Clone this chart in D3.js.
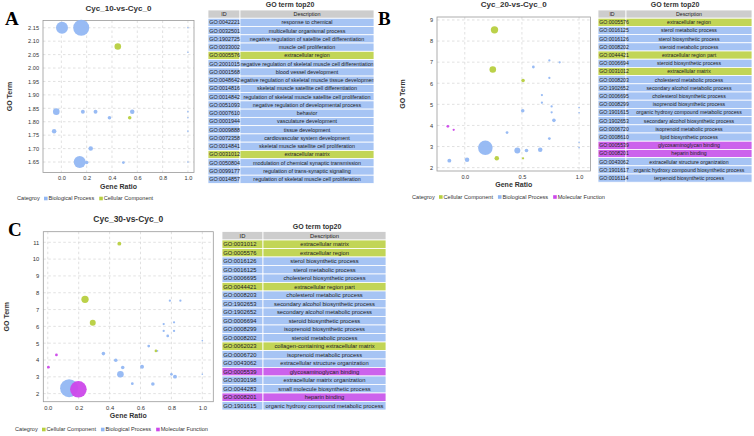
<!DOCTYPE html>
<html><head><meta charset="utf-8">
<script src="https://cdn.jsdelivr.net/npm/d3@7/dist/d3.min.js"></script>
<style>body{margin:0;background:#fff}svg{display:block;font-family:"Liberation Sans",Arial,sans-serif}</style>
</head><body><svg id="c" width="754" height="436"></svg>
<script>
// ---------- DATA ----------
const catNames = {CC: "Cellular Component", BP: "Biological Process", MF: "Molecular Function"};

// Panel A: Cyc_10-vs-Cyc_0
const aRatio = [0.005, 0.157, 0.446, 1.0, 1.0, -0.04, 0.17, 0.27, 0.38, 0.56, 0.54, 1.0, 1.0, -0.057, 1.0, 0.232, 0.145, 0.2, 0.49, 1.0];
const aTerm  = [2.15, 2.15, 2.08, 2.15, 2.059, 1.8375, 1.8375, 1.8375, 1.815, 1.8375, 1.815, 1.8375, 1.815, 1.765, 1.765, 1.70, 1.65, 1.648, 1.648, 1.65];
const aCount = [56, 100, 17, 1, 1, 17, 6, 6, 5, 8, 5, 1, 1, 8, 1, 8, 56, 5, 3, 1];
const aCat   = ["BP","BP","CC","BP","BP","BP","BP","BP","BP","BP","CC","BP","BP","BP","BP","BP","BP","BP","BP","BP"];
const aXTicks = [0.0, 0.2, 0.4, 0.6, 0.8, 1.0];
const aYTicks = [1.65, 1.70, 1.75, 1.80, 1.85, 1.90, 1.95, 2.00, 2.05, 2.10, 2.15];
const aLegend = ["BP", "CC"];

// Panel B: Cyc_20-vs-Cyc_0
const bRatio = [0.26, 0.245, 0.51, 0.28, 0.51, 0.18, -0.135, 0.02, 0.46, 0.54, 0.66, 0.507, 0.37, 0.78, 0.74, 0.76, 0.76, 0.675, 0.675, 0.74, 0.60, 0.74, 0.83, 1.0, 1.0, 1.0, 1.0, -0.148, -0.097];
const bTerm  = [8.53, 6.65, 6.13, 2.44, 2.44, 2.94, 2.33, 2.37, 2.81, 2.81, 2.85, 4.70, 3.66, 4.24, 3.38, 4.62, 4.90, 5.08, 5.44, 6.25, 6.77, 7.08, 6.99, 4.85, 4.6, 3.2, 2.95, 3.96, 3.79];
const bCount = [21, 17, 5, 8, 2, 83, 6, 8, 14, 5, 8, 5, 3, 5, 3, 2, 2, 2, 2, 2, 3, 2, 2, 1, 1, 1, 1, 3, 2];
const bCat   = ["CC","CC","CC","CC","CC","BP","BP","BP","BP","BP","BP","BP","BP","BP","BP","BP","BP","BP","BP","BP","BP","BP","BP","BP","BP","BP","BP","MF","MF"];
const bXTicks = [0.0, 0.5, 1.0];
const bYTicks = [2, 3, 4, 5, 6, 7, 8, 9];
const bLegend = ["CC", "BP", "MF"];

// Panel C: Cyc_30-vs-Cyc_0
const cRatio = [0.463, 0.241, 0.291, 0.70, 0.71, 0.138, 0.36, 0.44, 0.485, 0.47, 0.61, 0.547, 0.68, 0.80, 0.823, 0.653, 0.776, 0.75, 0.75, 0.817, 0.817, 0.79, 0.858, 1.0, 1.0, 0.198, 0.004, 0.056];
const cTerm  = [10.92, 7.61, 6.22, 4.54, 4.54, 2.32, 4.38, 3.98, 3.55, 3.15, 3.60, 2.59, 2.57, 3.15, 3.01, 4.83, 5.43, 5.73, 6.14, 5.73, 6.24, 7.53, 7.53, 5.15, 3.15, 2.26, 3.57, 4.30];
const cCount = [6, 21, 14, 3, 1, 127, 5, 5, 5, 17, 6, 3, 5, 3, 6, 3, 3, 2, 2, 2, 2, 2, 2, 1, 1, 108, 3, 3];
const cCat   = ["CC","CC","CC","CC","BP","BP","BP","BP","BP","BP","BP","BP","BP","BP","BP","BP","BP","BP","BP","BP","BP","BP","BP","BP","BP","MF","MF","MF"];
const cXTicks = [0.0, 0.2, 0.4, 0.6, 0.8, 1.0];
const cYTicks = [2, 3, 4, 5, 6, 7, 8, 9, 10, 11];
const cLegend = ["CC", "BP", "MF"];

// Tables (GO term top20)
const aIds = ["GO:0042221","GO:0032501","GO:1902725","GO:0033002","GO:0005576","GO:2001015","GO:0001568","GO:0048642","GO:0014816","GO:0014842","GO:0051093","GO:0007610","GO:0001944","GO:0009888","GO:0072358","GO:0014841","GO:0031012","GO:0050804","GO:0099177","GO:0014857"];
const aDesc = ["response to chemical","multicellular organismal process","negative regulation of satellite cell differentiation","muscle cell proliferation","extracellular region","negative regulation of skeletal muscle cell differentiation","blood vessel development","negative regulation of skeletal muscle tissue development","skeletal muscle satellite cell differentiation","regulation of skeletal muscle satellite cell proliferation","negative regulation of developmental process","behavior","vasculature development","tissue development","cardiovascular system development","skeletal muscle satellite cell proliferation","extracellular matrix","modulation of chemical synaptic transmission","regulation of trans-synaptic signaling","regulation of skeletal muscle cell proliferation"];
const aRowCat = ["BP","BP","BP","BP","CC","BP","BP","BP","BP","BP","BP","BP","BP","BP","BP","BP","CC","BP","BP","BP"];

const bIds = ["GO:0005576","GO:0016125","GO:0016126","GO:0008202","GO:0044421","GO:0006694","GO:0031012","GO:0008203","GO:1902652","GO:0006695","GO:0008299","GO:1901615","GO:1902653","GO:0006720","GO:0008610","GO:0005539","GO:0008201","GO:0043062","GO:1901617","GO:0016114"];
const bDesc = ["extracellular region","sterol metabolic process","sterol biosynthetic process","steroid metabolic process","extracellular region part","steroid biosynthetic process","extracellular matrix","cholesterol metabolic process","secondary alcohol metabolic process","cholesterol biosynthetic process","isoprenoid biosynthetic process","organic hydroxy compound metabolic process","secondary alcohol biosynthetic process","isoprenoid metabolic process","lipid biosynthetic process","glycosaminoglycan binding","heparin binding","extracellular structure organization","organic hydroxy compound biosynthetic process","terpenoid biosynthetic process"];
const bRowCat = ["CC","BP","BP","BP","CC","BP","CC","BP","BP","BP","BP","BP","BP","BP","BP","MF","MF","BP","BP","BP"];

const cIds = ["GO:0031012","GO:0005576","GO:0016126","GO:0016125","GO:0006695","GO:0044421","GO:0008203","GO:1902653","GO:1902652","GO:0006694","GO:0008299","GO:0008202","GO:0062023","GO:0006720","GO:0043062","GO:0005539","GO:0030198","GO:0044283","GO:0008201","GO:1901615"];
const cDesc = ["extracellular matrix","extracellular region","sterol biosynthetic process","sterol metabolic process","cholesterol biosynthetic process","extracellular region part","cholesterol metabolic process","secondary alcohol biosynthetic process","secondary alcohol metabolic process","steroid biosynthetic process","isoprenoid biosynthetic process","steroid metabolic process","collagen-containing extracellular matrix","isoprenoid metabolic process","extracellular structure organization","glycosaminoglycan binding","extracellular matrix organization","small molecule biosynthetic process","heparin binding","organic hydroxy compound metabolic process"];
const cRowCat = ["CC","CC","BP","BP","BP","CC","BP","BP","BP","BP","BP","BP","CC","BP","BP","MF","BP","BP","MF","BP"];

// ---------- STYLE ----------
const dotColor = {CC: "#b7cf3f", BP: "#92b7f3", MF: "#cc48ea"};
const rowColor = {CC: "#c2d556", BP: "#a6c4f4", MF: "#cc62ec"};
const svg = d3.select("#c");
let clipId = 0;

function scatterPanel(o) {
  const g = svg.append("g");
  const x = d3.scaleLinear().domain(o.xd).range([o.x0, o.x1]);
  const y = d3.scaleLinear().domain(o.yd).range([o.y1, o.y0]);
  const r = d3.scaleSqrt().domain([0, 100]).range([0, 8]);
  // grid
  g.append("g").selectAll("line").data(o.xt).join("line")
    .attr("x1", d => x(d)).attr("x2", d => x(d)).attr("y1", o.y0).attr("y2", o.y1)
    .attr("stroke", "#d4d4d4").attr("stroke-width", 0.7).attr("stroke-dasharray", "2.5,2.5");
  g.append("g").selectAll("line").data(o.yt).join("line")
    .attr("y1", d => y(d)).attr("y2", d => y(d)).attr("x1", o.x0).attr("x2", o.x1)
    .attr("stroke", "#d4d4d4").attr("stroke-width", 0.7).attr("stroke-dasharray", "2.5,2.5");
  // frame
  g.append("rect").attr("x", o.x0).attr("y", o.y0).attr("width", o.x1 - o.x0).attr("height", o.y1 - o.y0)
    .attr("fill", "none").attr("stroke", "#9a9a9a").attr("stroke-width", 0.8);
  // axes
  const ax = g.append("g").attr("transform", `translate(0,${o.y1 + 1})`)
    .call(d3.axisBottom(x).tickValues(o.xt).tickSize(0).tickPadding(3).tickFormat(d3.format(".1f")));
  const ay = g.append("g").attr("transform", `translate(${o.x0 - 1},0)`)
    .call(d3.axisLeft(y).tickValues(o.yt).tickSize(0).tickPadding(3).tickFormat(d3.format(o.yf)));
  [ax, ay].forEach(a => {
    a.select(".domain").remove();
    a.selectAll("text").attr("font-size", o.tf).attr("fill", "#333").attr("font-family", "Liberation Sans, Arial, sans-serif");
  });
  // points
  const pts = o.ratio.map((v, i) => ({x: v, y: o.term[i], n: o.count[i], c: o.cat[i]}));
  g.append("g").selectAll("circle").data(pts).join("circle")
    .attr("cx", d => x(d.x)).attr("cy", d => y(d.y)).attr("r", d => r(d.n))
    .attr("fill", d => dotColor[d.c]).attr("fill-opacity", 0.95);
  // titles
  g.append("text").attr("x", (o.x0 + o.x1) / 2).attr("y", o.y0 - 10).attr("text-anchor", "middle")
    .attr("font-size", o.titleSize).attr("font-weight", "bold").attr("fill", "#333").text(o.title);
  g.append("text").attr("x", (o.x0 + o.x1) / 2).attr("y", o.y1 + 16).attr("text-anchor", "middle")
    .attr("font-size", 7).attr("font-weight", "bold").attr("fill", "#333").text("Gene Ratio");
  g.append("text").attr("transform", `translate(${o.ylx},${(o.y0 + o.y1) / 2}) rotate(-90)`).attr("text-anchor", "middle")
    .attr("font-size", 7).attr("font-weight", "bold").attr("fill", "#333").text("GO Term");
  // panel letter
  g.append("text").attr("x", o.lx).attr("y", o.ly).attr("font-family", "Liberation Serif, Times New Roman, serif")
    .attr("font-weight", "bold").attr("font-size", 19).attr("fill", "#000").text(o.letter);
  // legend
  const lg = g.append("g").attr("transform", `translate(${o.legX},${o.legY})`);
  lg.append("text").attr("x", 0).attr("y", 0).attr("dy", "0.35em").attr("font-size", 5.6).attr("fill", "#333").text("Categroy");
  let lx = 27;
  o.legend.forEach(c => {
    lg.append("rect").attr("x", lx).attr("y", -1.8).attr("width", 3.6).attr("height", 3.6).attr("fill", dotColor[c]);
    const t = lg.append("text").attr("x", lx + 4.5).attr("y", 0).attr("dy", "0.35em").attr("font-size", 5.6).attr("fill", "#333").text(catNames[c]);
    lx += 4.5 + t.node().getComputedTextLength() + 5;
  });
}

function goTable(o) {
  const g = svg.append("g");
  g.append("text").attr("x", o.titleX).attr("y", o.top - 3).attr("text-anchor", "middle")
    .attr("font-size", 7).attr("font-weight", "bold").attr("fill", "#333").text("GO term top20");
  const rows = [{id: "ID", desc: "Description", c: null}].concat(o.ids.map((id, i) => ({id, desc: o.desc[i], c: o.cat[i]})));
  const cid = "clip" + (clipId++);
  g.append("clipPath").attr("id", cid).append("rect")
    .attr("x", o.x + o.idW + 0.5).attr("y", o.top).attr("width", o.w - o.idW - 1).attr("height", o.rowH * 21);
  rows.forEach((d, i) => {
    const yy = o.top + i * o.rowH;
    const fill = d.c ? rowColor[d.c] : "#cdcdcd";
    g.append("rect").attr("x", o.x).attr("y", yy).attr("width", o.idW).attr("height", o.rowH)
      .attr("fill", fill).attr("stroke", "#fff").attr("stroke-width", 0.8);
    g.append("rect").attr("x", o.x + o.idW).attr("y", yy).attr("width", o.w - o.idW).attr("height", o.rowH)
      .attr("fill", fill).attr("stroke", "#fff").attr("stroke-width", 0.8);
    g.append("text").attr("x", d.c ? o.x + 1.2 : o.x + o.idW / 2).attr("y", yy + o.rowH / 2).attr("dy", "0.35em")
      .attr("text-anchor", d.c ? "start" : "middle").attr("font-size", o.fs).attr("fill", "#222").text(d.id);
    g.append("text").attr("x", o.x + o.idW + (o.w - o.idW) / 2).attr("y", yy + o.rowH / 2).attr("dy", "0.35em")
      .attr("text-anchor", "middle").attr("font-size", o.fs).attr("fill", "#222").attr("clip-path", `url(#${cid})`).text(d.desc);
  });
}

scatterPanel({letter: "A", lx: 5, ly: 25, title: "Cyc_10-vs-Cyc_0", titleSize: 8,
  x0: 43, x1: 194, y0: 20.5, y1: 172.5, xd: [-0.145, 1.048], yd: [1.611, 2.177],
  xt: aXTicks, yt: aYTicks, yf: ".2f", tf: 5.6, ylx: 12,
  ratio: aRatio, term: aTerm, count: aCount, cat: aCat, legend: aLegend, legX: 17, legY: 198.5});
scatterPanel({letter: "B", lx: 378, ly: 25, title: "Cyc_20-vs-Cyc_0", titleSize: 8,
  x0: 437, x1: 590.5, y0: 17, y1: 171, xd: [-0.243, 1.10], yd: [1.84, 9.14],
  xt: bXTicks, yt: bYTicks, yf: "d", tf: 5.6, ylx: 405,
  ratio: bRatio, term: bTerm, count: bCount, cat: bCat, legend: bLegend, legX: 412, legY: 197});
scatterPanel({letter: "C", lx: 8, ly: 236, title: "Cyc_30-vs-Cyc_0", titleSize: 8.5,
  x0: 43.3, x1: 213.3, y0: 231.7, y1: 401.7, xd: [-0.029, 1.071], yd: [1.52, 11.63],
  xt: cXTicks, yt: cYTicks, yf: "d", tf: 5.8, ylx: 9,
  ratio: cRatio, term: cTerm, count: cCount, cat: cCat, legend: cLegend, legX: 15, legY: 429.5});

goTable({x: 208, w: 166, idW: 32, top: 10, rowH: 8.26, fs: 5.4, titleX: 290, ids: aIds, desc: aDesc, cat: aRowCat});
goTable({x: 598, w: 154, idW: 28, top: 10, rowH: 8.2, fs: 5.2, titleX: 675, ids: bIds, desc: bDesc, cat: bRowCat});
goTable({x: 222, w: 164, idW: 41, top: 231.5, rowH: 8.5, fs: 5.8, titleX: 317, ids: cIds, desc: cDesc, cat: cRowCat});
</script></body></html>
